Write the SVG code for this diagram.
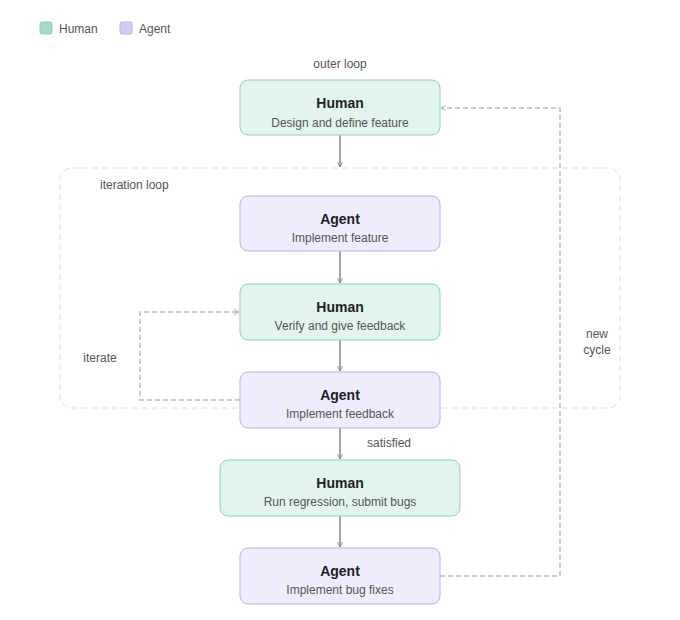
<svg xmlns="http://www.w3.org/2000/svg" width="680" height="620" viewBox="0 0 680 620">
<defs>
<marker id="arr" viewBox="0 0 10 10" refX="9" refY="5" markerWidth="6" markerHeight="6" orient="auto-start-reverse" markerUnits="userSpaceOnUse">
<path d="M1 1 L9 5 L1 9" fill="none" stroke="#888" stroke-width="1.5" stroke-linecap="round" stroke-linejoin="round"/>
</marker>
<marker id="arrd" viewBox="0 0 10 10" refX="9" refY="5" markerWidth="6" markerHeight="6" orient="auto-start-reverse" markerUnits="userSpaceOnUse">
<path d="M1 1 L9 5 L1 9" fill="none" stroke="#aaa" stroke-width="1.5" stroke-linecap="round" stroke-linejoin="round"/>
</marker>
</defs>
<style>
text{font-family:"Liberation Sans",Arial,sans-serif}
.human rect{fill:#e1f5ee;stroke:#93cfb7;stroke-width:1}
.agent rect{fill:#eeecfd;stroke:#b9b2ea;stroke-width:1}
.t{font-size:14px;font-weight:bold;fill:#222;text-anchor:middle}
.s{font-size:12px;fill:#555;text-anchor:middle}
.lbl{font-size:12px;fill:#555}
.c{fill:none;stroke:#888;stroke-width:1.5}
.d{fill:none;stroke:#bbb;stroke-width:1.5;stroke-dasharray:5 3}
</style>
<rect width="680" height="620" fill="#fff"/>
<g id="legend">
<rect x="40" y="22" width="12" height="12" rx="2" fill="#a6d9c6" stroke="#93cfb7"/>
<text class="lbl" x="59" y="33">Human</text>
<rect x="120" y="22" width="12" height="12" rx="2" fill="#d2cdf5" stroke="#b9b2ea"/>
<text class="lbl" x="139" y="33">Agent</text>
</g>
<text class="lbl" x="340" y="68" text-anchor="middle">outer loop</text>
<g id="iteration-loop">
<rect x="60" y="168" width="560" height="240" rx="12" fill="none" stroke="#ddd" stroke-width="1" stroke-dasharray="6 4"/>
<text class="lbl" x="100" y="189">iteration loop</text>
</g>
<g id="connectors">
<line class="c" x1="340" y1="135" x2="340" y2="167" marker-end="url(#arr)"/>
<line class="c" x1="340" y1="251" x2="340" y2="283" marker-end="url(#arr)"/>
<line class="c" x1="340" y1="340" x2="340" y2="371" marker-end="url(#arr)"/>
<line class="c" x1="340" y1="428" x2="340" y2="459" marker-end="url(#arr)"/>
<line class="c" x1="340" y1="516" x2="340" y2="547" marker-end="url(#arr)"/>
<polyline class="d" points="240,400 140,400 140,312 239,312" marker-end="url(#arrd)"/>
<polyline class="d" points="440,576 560,576 560,108 441,108" marker-end="url(#arrd)"/>
<text class="lbl" x="100" y="362" text-anchor="middle">iterate</text>
<text class="lbl" x="367" y="447">satisfied</text>
<text class="lbl" x="597" y="338" text-anchor="middle">new</text>
<text class="lbl" x="597" y="354" text-anchor="middle">cycle</text>
</g>
<g id="n1" class="human">
<rect x="240" y="80" width="200" height="55" rx="8"/>
<text class="t" x="340" y="108">Human</text>
<text class="s" x="340" y="127">Design and define feature</text>
</g>
<g id="n2" class="agent">
<rect x="240" y="196" width="200" height="55" rx="8"/>
<text class="t" x="340" y="224">Agent</text>
<text class="s" x="340" y="242">Implement feature</text>
</g>
<g id="n3" class="human">
<rect x="240" y="284" width="200" height="56" rx="8"/>
<text class="t" x="340" y="312">Human</text>
<text class="s" x="340" y="330">Verify and give feedback</text>
</g>
<g id="n4" class="agent">
<rect x="240" y="372" width="200" height="56" rx="8"/>
<text class="t" x="340" y="400">Agent</text>
<text class="s" x="340" y="418">Implement feedback</text>
</g>
<g id="n5" class="human">
<rect x="220" y="460" width="240" height="56" rx="8"/>
<text class="t" x="340" y="488">Human</text>
<text class="s" x="340" y="506">Run regression, submit bugs</text>
</g>
<g id="n6" class="agent">
<rect x="240" y="548" width="200" height="56" rx="8"/>
<text class="t" x="340" y="576">Agent</text>
<text class="s" x="340" y="594">Implement bug fixes</text>
</g>
</svg>
